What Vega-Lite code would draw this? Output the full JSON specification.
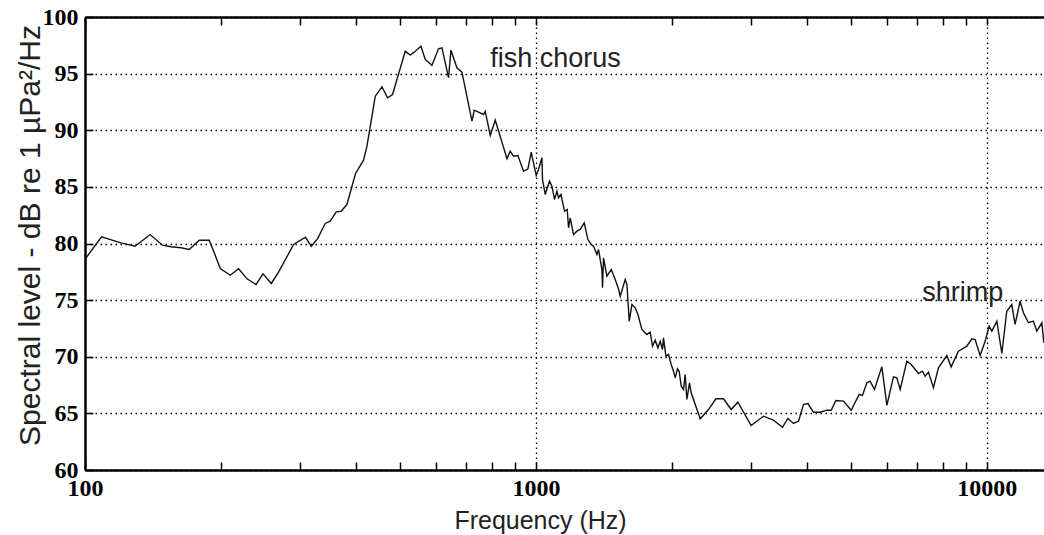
{
  "$schema": "https://vega.github.io/schema/vega-lite/v6.json",
  "autosize": {"type": "none"},
  "width": 959,
  "height": 453,
  "padding": {"left": 85, "top": 17, "right": 0, "bottom": 65},
  "background": "white",
  "config": {
    "view": {"stroke": null},
    "axis": {"domainColor": "black", "domainWidth": 2.5, "tickColor": "black", "tickWidth": 1.5}
  },
  "datasets": {
    "spectrum": [
      {"f": 100, "db": 78.6}, {"f": 108.8, "db": 80.59}, {"f": 120.2, "db": 80.06}, {"f": 129.1, "db": 79.76},
      {"f": 133.5, "db": 80.2}, {"f": 139.4, "db": 80.79}, {"f": 148.6, "db": 79.85}, {"f": 155.1, "db": 79.71},
      {"f": 163.3, "db": 79.62}, {"f": 170.3, "db": 79.47}, {"f": 179.2, "db": 80.29}, {"f": 188.6, "db": 80.29},
      {"f": 193.5, "db": 79.18}, {"f": 199.5, "db": 77.79}, {"f": 210.0, "db": 77.2}, {"f": 219.1, "db": 77.77},
      {"f": 228.7, "db": 76.88}, {"f": 239.5, "db": 76.38}, {"f": 248.2, "db": 77.32}, {"f": 258.9, "db": 76.47},
      {"f": 268.7, "db": 77.47}, {"f": 290.1, "db": 79.91}, {"f": 308.3, "db": 80.56}, {"f": 317.5, "db": 79.76},
      {"f": 327.8, "db": 80.41}, {"f": 341.0, "db": 81.77}, {"f": 349.8, "db": 81.97}, {"f": 360.7, "db": 82.8},
      {"f": 370.0, "db": 82.85}, {"f": 380.9, "db": 83.44}, {"f": 398.1, "db": 86.18}, {"f": 414.7, "db": 87.36},
      {"f": 422.0, "db": 88.59}, {"f": 440.3, "db": 93.01}, {"f": 455.6, "db": 93.84}, {"f": 468.8, "db": 92.87},
      {"f": 480.9, "db": 93.16}, {"f": 513.1, "db": 96.98}, {"f": 526.4, "db": 96.63}, {"f": 540.0, "db": 96.98},
      {"f": 555.9, "db": 97.42}, {"f": 568.2, "db": 96.25}, {"f": 588.0, "db": 95.74}, {"f": 608.1, "db": 97.19},
      {"f": 618.9, "db": 97.28}, {"f": 640.1, "db": 94.63}, {"f": 647.9, "db": 97.07}, {"f": 668.1, "db": 95.51},
      {"f": 685.4, "db": 95.13}, {"f": 721.4, "db": 90.8}, {"f": 729.9, "db": 91.77}, {"f": 765.3, "db": 91.39},
      {"f": 772.0, "db": 91.68}, {"f": 792.0, "db": 89.54}, {"f": 812.5, "db": 90.89}, {"f": 862.6, "db": 87.48},
      {"f": 877.0, "db": 88.15}, {"f": 891.9, "db": 87.71}, {"f": 912.2, "db": 87.77}, {"f": 938.7, "db": 86.38},
      {"f": 960.1, "db": 86.6}, {"f": 976.3, "db": 88.06}, {"f": 1001.6, "db": 86.0}, {"f": 1013.4, "db": 86.53},
      {"f": 1031.1, "db": 87.57}, {"f": 1034.2, "db": 85.65}, {"f": 1048.6, "db": 84.33}, {"f": 1072.0, "db": 85.5},
      {"f": 1085.2, "db": 85.06}, {"f": 1099.6, "db": 83.89}, {"f": 1113.3, "db": 84.62}, {"f": 1122.3, "db": 84.04},
      {"f": 1136.2, "db": 84.33}, {"f": 1157.2, "db": 82.85}, {"f": 1173.3, "db": 83.0}, {"f": 1181.2, "db": 81.39},
      {"f": 1191.6, "db": 82.27}, {"f": 1211.8, "db": 80.79}, {"f": 1232.9, "db": 81.09}, {"f": 1253.8, "db": 81.24},
      {"f": 1279.7, "db": 81.83}, {"f": 1304.1, "db": 80.35}, {"f": 1326.2, "db": 79.91}, {"f": 1341.9, "db": 79.76},
      {"f": 1365.6, "db": 79.03}, {"f": 1376.7, "db": 79.47}, {"f": 1400.7, "db": 77.7}, {"f": 1405.2, "db": 76.09},
      {"f": 1412.3, "db": 78.74}, {"f": 1437.0, "db": 77.11}, {"f": 1469.0, "db": 77.7}, {"f": 1499.1, "db": 76.82},
      {"f": 1524.5, "db": 76.0}, {"f": 1537.9, "db": 75.35}, {"f": 1577.7, "db": 76.82}, {"f": 1591.6, "db": 76.38},
      {"f": 1610.4, "db": 73.14}, {"f": 1632.8, "db": 74.61}, {"f": 1660.5, "db": 74.32}, {"f": 1683.7, "db": 73.73},
      {"f": 1717.9, "db": 72.41}, {"f": 1762.4, "db": 71.96}, {"f": 1792.3, "db": 72.17}, {"f": 1813.5, "db": 70.93},
      {"f": 1838.7, "db": 71.46}, {"f": 1864.3, "db": 70.79}, {"f": 1886.4, "db": 71.37}, {"f": 1908.7, "db": 70.64},
      {"f": 1918.3, "db": 71.67}, {"f": 1941.9, "db": 70.05}, {"f": 1968.0, "db": 70.2}, {"f": 1995.3, "db": 69.32},
      {"f": 2018.8, "db": 68.72}, {"f": 2036.6, "db": 68.14}, {"f": 2060.6, "db": 68.94}, {"f": 2078.3, "db": 68.72},
      {"f": 2100.0, "db": 67.4}, {"f": 2124.8, "db": 67.11}, {"f": 2143.0, "db": 68.43}, {"f": 2161.8, "db": 66.23},
      {"f": 2190.9, "db": 67.7}, {"f": 2209.7, "db": 66.82}, {"f": 2313.9, "db": 64.52}, {"f": 2414.0, "db": 65.34},
      {"f": 2507.0, "db": 66.29}, {"f": 2606.2, "db": 66.29}, {"f": 2710.2, "db": 65.34}, {"f": 2804.7, "db": 65.99},
      {"f": 3001.5, "db": 63.93}, {"f": 3196.2, "db": 64.75}, {"f": 3363.7, "db": 64.4}, {"f": 3522.4, "db": 63.78},
      {"f": 3621.1, "db": 64.55}, {"f": 3726.0, "db": 64.11}, {"f": 3822.3, "db": 64.31}, {"f": 3920.6, "db": 65.78},
      {"f": 4010.0, "db": 65.87}, {"f": 4126.2, "db": 65.1}, {"f": 4270.0, "db": 65.1}, {"f": 4418.1, "db": 65.28},
      {"f": 4516.8, "db": 65.28}, {"f": 4626.2, "db": 66.14}, {"f": 4808.7, "db": 66.08}, {"f": 5001.8, "db": 65.28},
      {"f": 5211.0, "db": 66.67}, {"f": 5299.3, "db": 66.58}, {"f": 5419.1, "db": 67.7}, {"f": 5511.0, "db": 67.84},
      {"f": 5634.2, "db": 67.11}, {"f": 5850.9, "db": 69.11}, {"f": 6002.2, "db": 65.7}, {"f": 6207.5, "db": 68.23},
      {"f": 6315.7, "db": 68.14}, {"f": 6424.3, "db": 67.11}, {"f": 6646.9, "db": 69.61}, {"f": 6795.4, "db": 69.32},
      {"f": 7052.2, "db": 68.52}, {"f": 7198, "db": 68.72}, {"f": 7298, "db": 68.28}, {"f": 7422, "db": 68.64},
      {"f": 7614, "db": 67.26}, {"f": 7811, "db": 69.02}, {"f": 8153, "db": 70.11}, {"f": 8333, "db": 69.11},
      {"f": 8650, "db": 70.49}, {"f": 9030, "db": 70.93}, {"f": 9263, "db": 71.58}, {"f": 9421, "db": 71.52},
      {"f": 9663, "db": 70.11}, {"f": 9913, "db": 71.37}, {"f": 10118, "db": 72.7}, {"f": 10259, "db": 72.26},
      {"f": 10524, "db": 73.14}, {"f": 10797, "db": 70.29}, {"f": 11072, "db": 74.02}, {"f": 11358, "db": 74.61},
      {"f": 11551, "db": 72.85}, {"f": 11851, "db": 74.9}, {"f": 12054, "db": 73.88}, {"f": 12365, "db": 73.0},
      {"f": 12685, "db": 73.14}, {"f": 12908, "db": 72.26}, {"f": 13243, "db": 73.0}, {"f": 13380, "db": 71.23}
    ],
    "notes": [
      {"label": "fish chorus", "f": 792, "db": 96.25},
      {"label": "shrimp", "f": 7190, "db": 75.67}
    ]
  },
  "encoding": {
    "y": {
      "field": "db", "type": "quantitative",
      "scale": {"domain": [60, 100], "nice": false, "zero": false},
      "axis": {
        "values": [60, 65, 70, 75, 80, 85, 90, 95, 100],
        "title": "Spectral level - dB re 1 µPa²/Hz",
        "titleFont": "Liberation Sans", "titleFontSize": 30, "titleFontWeight": "normal", "titleColor": "#222",
        "titleAngle": -90, "titleAlign": "center", "titleBaseline": "middle", "titleX": -55, "titleY": 218,
        "labelFont": "Liberation Serif", "labelFontWeight": "bold", "labelFontSize": 24, "labelColor": "black",
        "labelPadding": 15, "tickSize": -8,
        "grid": true, "gridColor": "black", "gridDash": [1.5, 3.5], "gridWidth": 1.3
      }
    }
  },
  "layer": [
    {
      "data": {"name": "spectrum"},
      "mark": {"type": "line", "color": "#111", "strokeWidth": 1.4, "clip": true},
      "encoding": {
        "x": {
          "field": "f", "type": "quantitative",
          "scale": {"type": "log", "domain": [100, 13390], "nice": false},
          "axis": {
            "orient": "bottom",
            "values": [100, 200, 300, 400, 500, 600, 700, 800, 900, 1000, 2000, 3000, 4000, 5000, 6000, 7000, 8000, 9000, 10000],
            "labelExpr": "datum.value == 100 || datum.value == 1000 || datum.value == 10000 ? format(datum.value, 'd') : ''",
            "labelOverlap": false, "labelFlush": false,
            "labelFont": "Liberation Serif", "labelFontWeight": "bold", "labelFontSize": 24, "labelColor": "black",
            "labelPadding": 14, "tickSize": -8,
            "title": "Frequency (Hz)",
            "titleFont": "Liberation Sans", "titleFontSize": 25, "titleFontWeight": "normal", "titleColor": "#222",
            "titleX": 455, "titleY": 50, "titleAlign": "center", "titleBaseline": "middle",
            "grid": true, "gridColor": "black", "gridDash": [1.5, 3.5], "gridWidth": 1.3,
            "gridOpacity": {"condition": {"test": "datum.value == 1000 || datum.value == 10000", "value": 1}, "value": 0}
          }
        }
      }
    },
    {
      "data": {"name": "notes"},
      "mark": {"type": "text", "align": "left", "baseline": "middle", "font": "Liberation Sans", "fontSize": 27, "color": "#222"},
      "encoding": {
        "x": {
          "field": "f", "type": "quantitative",
          "scale": {"type": "log", "domain": [100, 13390], "nice": false},
          "axis": {
            "orient": "top",
            "values": [100, 200, 300, 400, 500, 600, 700, 800, 900, 1000, 2000, 3000, 4000, 5000, 6000, 7000, 8000, 9000, 10000],
            "labels": false, "title": null, "grid": false, "tickSize": -8
          }
        },
        "text": {"field": "label"}
      }
    }
  ],
  "resolve": {"axis": {"x": "independent"}}
}
